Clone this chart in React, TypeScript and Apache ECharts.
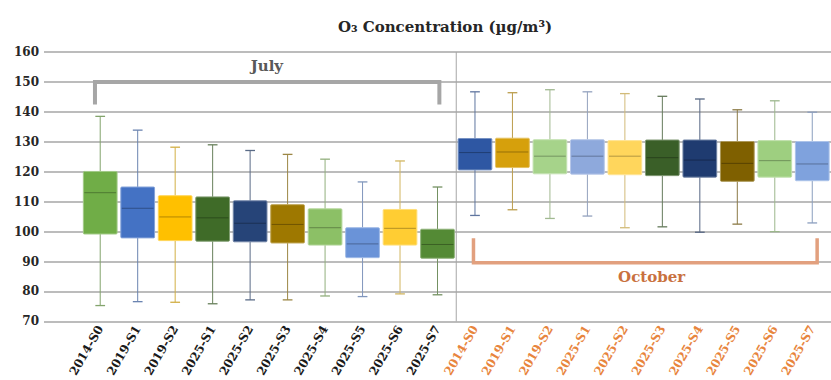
import React, { useEffect, useRef } from 'react';
import * as echarts from 'echarts';

const siteLabels = ['2014-S0', '2019-S1', '2019-S2', '2025-S1', '2025-S2', '2025-S3', '2025-S4', '2025-S5', '2025-S6', '2025-S7'];
const categories = ['', ...siteLabels, ...siteLabels];
const yTicks = { min: 70, max: 160, interval: 10 };

const julyMin = [75.3, 76.6, 76.4, 75.9, 77.2, 77.2, 78.5, 78.3, 79.2, 78.9];
const julyQ1 = [99.2, 97.9, 97.0, 96.8, 96.6, 96.2, 95.5, 91.3, 95.5, 91.1];
const julyMedian = [113.0, 107.8, 104.9, 104.6, 102.8, 102.4, 101.3, 95.9, 101.1, 95.7];
const julyQ3 = [120.1, 114.9, 112.0, 111.6, 110.3, 109.0, 107.6, 101.3, 107.4, 100.8];
const julyMax = [138.5, 133.9, 128.2, 129.0, 127.1, 125.8, 124.2, 116.6, 123.6, 114.9];

const octMin = [105.4, 107.3, 104.4, 105.2, 101.3, 101.6, 99.8, 102.5, 100.0, 102.9];
const octQ1 = [120.6, 121.4, 119.3, 119.2, 119.0, 118.7, 118.2, 116.8, 118.2, 117.0];
const octMedian = [126.4, 126.6, 125.2, 125.2, 125.2, 124.7, 123.9, 122.8, 123.7, 122.6];
const octQ3 = [131.1, 131.2, 130.7, 130.7, 130.4, 130.6, 130.6, 130.1, 130.4, 130.1];
const octMax = [146.7, 146.4, 147.4, 146.7, 146.1, 145.2, 144.3, 140.7, 143.7, 139.9];

const julyColors = ['#70ad47', '#4472c4', '#ffc000', '#3f6b28', '#264478', '#9e7800', '#8cc066', '#6a93d8', '#ffcd33', '#548a35'];
const octColors = ['#2e57a3', '#d6a00c', '#a6d38a', '#8ea9dc', '#ffd65c', '#3a5f28', '#1f3b70', '#7f6000', '#9ecf80', '#7fa2dd'];

const boxColors = [...julyColors, ...octColors];

function hexToRgb(h: string) {
  const n = parseInt(h.slice(1), 16);
  return [(n >> 16) & 255, (n >> 8) & 255, n & 255];
}
function mix(h: string, target: string, t: number) {
  const a = hexToRgb(h);
  const b = hexToRgb(target);
  const c = a.map((v, i) => Math.round(v * (1 - t) + b[i] * t));
  return `rgb(${c[0]},${c[1]},${c[2]})`;
}

const SERIF = '"DejaVu Serif", "Liberation Serif", serif';

export default function App() {
  const ref = useRef<HTMLDivElement>(null);

  useEffect(() => {
    if (!ref.current) return;
    const chart = echarts.init(ref.current, undefined, { renderer: 'svg' });

    const data: number[][] = [];
    for (let k = 0; k < 10; k++) {
      data.push([k + 1, julyMin[k], julyQ1[k], julyMedian[k], julyQ3[k], julyMax[k]]);
    }
    for (let k = 0; k < 10; k++) {
      data.push([k + 11, octMin[k], octQ1[k], octMedian[k], octQ3[k], octMax[k]]);
    }

    const option: any = {
      animation: false,
      backgroundColor: '#ffffff',
      title: {
        text: 'O₃ Concentration (µg/m³)',
        left: 440,
        top: 14,
        textAlign: 'center',
        textStyle: { fontFamily: SERIF, fontWeight: 'bold', fontSize: 15, color: '#262626' },
      },
      grid: { left: 44, top: 52, width: 790, height: 277 },
      xAxis: {
        type: 'category',
        data: categories,
        boundaryGap: true,
        axisLine: { show: false },
        axisTick: { show: false },
        splitLine: { show: false },
        axisLabel: {
          interval: 0,
          rotate: 60,
          margin: 5,
          fontFamily: SERIF,
          fontWeight: 'bold',
          fontSize: 12,
          color: (value: string, index: number) => (index > 10 ? '#e8853d' : '#1a1a1a'),
        },
      },
      yAxis: {
        type: 'value',
        min: yTicks.min,
        max: yTicks.max,
        interval: yTicks.interval,
        axisLine: { show: false },
        axisTick: { show: false },
        axisLabel: { fontFamily: SERIF, fontWeight: 'bold', fontSize: 12, color: '#262626', margin: 5 },
        splitLine: { lineStyle: { color: '#a6a6a6', width: 1.5 } },
      },
      series: [
        {
          type: 'custom',
          name: 'O3',
          encode: { x: 0, y: [1, 2, 3, 4, 5] },
          data,
          renderItem: (params: any, api: any) => {
            const i = api.value(0);
            const pMin = api.coord([i, api.value(1)]);
            const pQ1 = api.coord([i, api.value(2)]);
            const pMed = api.coord([i, api.value(3)]);
            const pQ3 = api.coord([i, api.value(4)]);
            const pMax = api.coord([i, api.value(5)]);
            const band = api.size([1, 0])[0];
            const bw = band * 0.9;
            const cap = band * 0.13;
            const x = pMin[0];
            const color = boxColors[i - 1];
            const wc = mix(color, '#9a9a9a', 0.45);
            const mc = mix(color, '#000000', 0.3);
            const ec = mix(color, '#ffffff', 0.35);
            return {
              type: 'group',
              children: [
                { type: 'line', shape: { x1: x, y1: pMax[1], x2: x, y2: pQ3[1] }, style: { stroke: wc, lineWidth: 1 } },
                { type: 'line', shape: { x1: x - cap, y1: pMax[1], x2: x + cap, y2: pMax[1] }, style: { stroke: wc, lineWidth: 1.3 } },
                { type: 'line', shape: { x1: x, y1: pQ1[1], x2: x, y2: pMin[1] }, style: { stroke: wc, lineWidth: 1 } },
                { type: 'line', shape: { x1: x - cap, y1: pMin[1], x2: x + cap, y2: pMin[1] }, style: { stroke: wc, lineWidth: 1.3 } },
                {
                  type: 'rect',
                  shape: { x: x - bw / 2, y: pQ3[1], width: bw, height: pQ1[1] - pQ3[1], r: 1 },
                  style: { fill: color, stroke: ec, lineWidth: 1 },
                },
                { type: 'line', shape: { x1: x - bw / 2 + 1, y1: pMed[1], x2: x + bw / 2 - 1, y2: pMed[1] }, style: { stroke: mc, lineWidth: 1 } },
              ],
            };
          },
        },
      ],
    };

    chart.setOption(option);

    const px = (i: number, v: number) => chart.convertToPixel({ seriesIndex: 0 }, [i, v]) as number[];
    const band = px(2, 100)[0] - px(1, 100)[0];
    const sepX = (px(10, 100)[0] + px(11, 100)[0]) / 2;
    const top = px(10, 160)[1];
    const bottom = px(10, 70)[1];

    const jl = px(1, 150)[0] - 0.14 * band;
    const jr = px(10, 150)[0] + 0.05 * band;
    const jy = px(1, 150)[1];
    const jy2 = px(1, 142.5)[1];

    const ol = px(11, 90)[0] - 0.04 * band;
    const or = px(20, 90)[0] + 0.13 * band;
    const oy = px(11, 89.6)[1];
    const oy2 = px(11, 97.8)[1];

    const julyTextX = (px(1, 0)[0] + px(10, 0)[0]) / 2 - 2;
    const julyTextY = px(1, 155.2)[1];
    const octTextX = (px(11, 0)[0] + px(20, 0)[0]) / 2 + 8;
    const octTextY = px(11, 85)[1];

    chart.setOption({
      graphic: [
        { type: 'line', z: 1, shape: { x1: sepX, y1: top, x2: sepX, y2: bottom }, style: { stroke: '#a6a6a6', lineWidth: 1 } },
        {
          type: 'polyline',
          z: 5,
          shape: { points: [[jl, jy2], [jl, jy], [jr, jy], [jr, jy2]] },
          style: { stroke: '#a6a6a6', lineWidth: 4, fill: 'none' },
        },
        {
          type: 'polyline',
          z: 5,
          shape: { points: [[ol, oy2], [ol, oy], [or, oy], [or, oy2]] },
          style: { stroke: '#e2a07e', lineWidth: 3.5, fill: 'none' },
        },
        {
          type: 'text',
          z: 6,
          x: julyTextX,
          y: julyTextY,
          style: {
            text: 'July',
            fill: '#595959',
            font: `bold 15px ${SERIF}`,
            textAlign: 'center',
            textVerticalAlign: 'middle',
            align: 'center',
            verticalAlign: 'middle',
          },
        },
        {
          type: 'text',
          z: 6,
          x: octTextX,
          y: octTextY,
          style: {
            text: 'October',
            fill: '#c9713f',
            font: `bold 15px ${SERIF}`,
            textAlign: 'center',
            textVerticalAlign: 'middle',
            align: 'center',
            verticalAlign: 'middle',
          },
        },
      ],
    });

    return () => chart.dispose();
  }, []);

  return <div ref={ref} style={{ position: 'fixed', left: 0, top: 0, width: 831, height: 380 }} />;
}
